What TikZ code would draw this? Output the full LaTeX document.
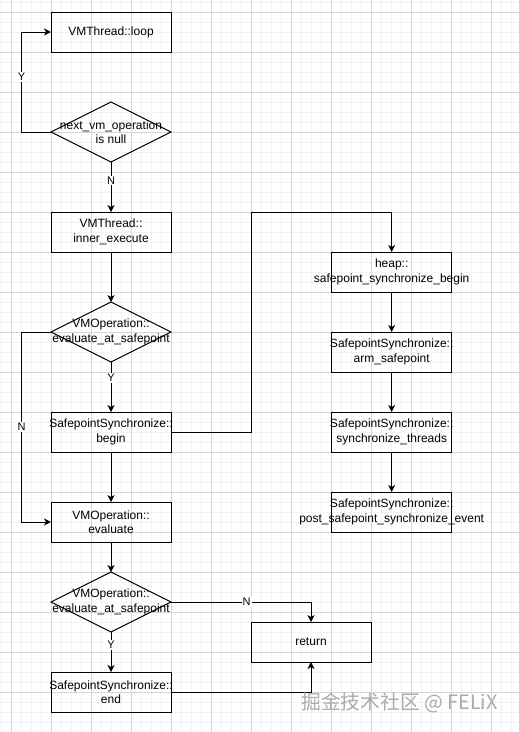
\documentclass[tikz,border=0pt]{standalone}
\usepackage{fontspec}
\setmainfont{Liberation Sans}
\newfontfamily\cjkfont{Noto Sans CJK SC}
\usetikzlibrary{shapes.geometric,arrows.meta}
\definecolor{minorgrid}{HTML}{F2F2F2}
\definecolor{majorgrid}{HTML}{D6D6D6}
\definecolor{wmark}{HTML}{ABABAB}
\tikzset{
  boxtext/.style={align=center, inner sep=0pt, font=\fontsize{12}{14.5}\selectfont},
  box/.style={draw=black, line width=1pt, rectangle, minimum width=120pt, minimum height=40pt, inner sep=0pt, outer sep=0pt, label={[boxtext]center:#1}},
  dia/.style={draw=black, line width=1pt, diamond, aspect=2, minimum width=120pt, minimum height=60pt, inner sep=0pt, outer sep=0pt, label={[boxtext]center:#1}},
  arr/.style={line width=1pt, -{Stealth[length=7pt,width=7pt,inset=2pt]}},
  lbl/.style={fill=white, inner sep=1pt, font=\fontsize{11}{13}\selectfont},
}
\begin{document}
\begin{tikzpicture}[x=1pt,y=-1pt]
\useasboundingbox (0,0) rectangle (519,732);
\fill[white] (0,0) rectangle (519,732);
% grid
\foreach \i in {0,...,52} {\draw[minorgrid, line width=0.6pt] (1.7+\i*10,0) -- (1.7+\i*10,732);}
\foreach \i in {0,...,73} {\draw[minorgrid, line width=0.6pt] (0,2.5+\i*10) -- (519,2.5+\i*10);}
\foreach \i in {0,...,12} {\draw[majorgrid, line width=0.6pt] (11.7+\i*40,0) -- (11.7+\i*40,732);}
\foreach \i in {0,...,18} {\draw[majorgrid, line width=0.6pt] (0,12.5+\i*40) -- (519,12.5+\i*40);}

% nodes
\node[box={VMThread::loop}] (loop) at (111,32) {};
\node[dia={next\_vm\_operation\\is null}] (d1) at (111,132) {};
\node[box={VMThread::\\inner\_execute}] (inner) at (111,232) {};
\node[dia={VMOperation::\\evaluate\_at\_safepoint}] (d2) at (111,332) {};
\node[box={SafepointSynchronize::\\begin}] (begin) at (111,432) {};
\node[box={VMOperation::\\evaluate}] (eval) at (111,522) {};
\node[dia={VMOperation::\\evaluate\_at\_safepoint}] (d3) at (111,602) {};
\node[box={SafepointSynchronize::\\end}] (end) at (111,692) {};
\node[box={return}] (ret) at (311,642) {};
\node[box={heap::\\safepoint\_synchronize\_begin}] (heap) at (391.7,272) {};
\node[box={SafepointSynchronize::\\arm\_safepoint}] (arm) at (391.7,352) {};
\node[box={SafepointSynchronize::\\synchronize\_threads}] (sync) at (391.7,432) {};
\node[box={SafepointSynchronize::\\post\_safepoint\_synchronize\_event}] (post) at (391.7,512) {};

\coordinate (c1) at (21.5,132);
\coordinate (c2) at (21.5,332);
\coordinate (c3) at (251.5,212);

% connectors
\draw[arr] (d1.west) -- (c1) |- node[lbl, pos=0.275] {Y} (loop.west);
\draw[arr] (d1.south) -- node[lbl, pos=0.37] {N} (inner.north);
\draw[arr] (inner.south) -- (d2.north);
\draw[arr] (d2.south) -- node[lbl, pos=0.32] {Y} (begin.north);
\draw[arr] (d2.west) -- (c2) |- node[lbl, pos=0.25] {N} (eval.west);
\draw[arr] (begin.south) -- (eval.north);
\draw[arr] (begin.east) -| (c3) -| (heap.north);
\draw[arr] (heap.south) -- (arm.north);
\draw[arr] (arm.south) -- (sync.north);
\draw[arr] (sync.south) -- (post.north);
\draw[arr] (eval.south) -- (d3.north);
\draw[arr] (d3.south) -- node[lbl, pos=0.33] {Y} (end.north);
\draw[arr] (d3.east) -| node[lbl, pos=0.27] {N} (ret.north);
\draw[arr] (end.east) -| (ret.south);

% watermark
\node[text=wmark, inner sep=0pt, anchor=west, font=\cjkfont\fontsize{19.8}{22}\selectfont] (wm) at (301,703) {掘金技术社区 @ FELiX};
\end{tikzpicture}
\end{document}
